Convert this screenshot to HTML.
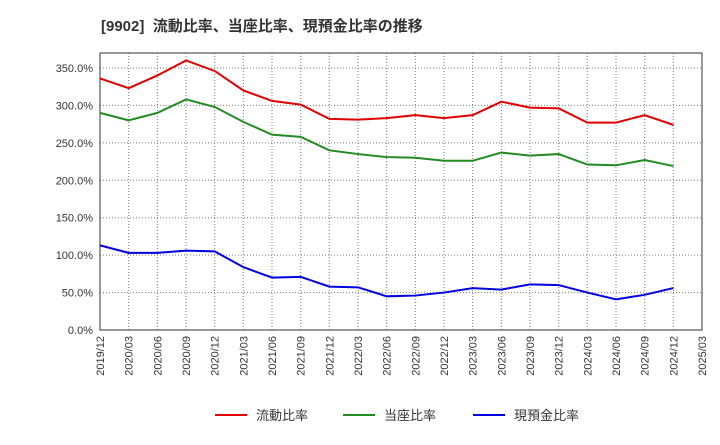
<!DOCTYPE html>
<html><head><meta charset="utf-8"><style>
body{margin:0;background:#fff;font-family:"Liberation Sans","Noto Sans CJK JP",sans-serif;}
svg text{font-family:"Liberation Sans","Noto Sans CJK JP",sans-serif;}
</style></head><body>
<svg id="c" width="720" height="440" xmlns="http://www.w3.org/2000/svg">
<text x="101" y="31" font-size="15" font-weight="bold" fill="#333" xml:space="preserve">[9902]  流動比率、当座比率、現預金比率の推移</text>
<g id="grid"></g><g id="axes"></g><g id="series"></g><g id="legend"></g>
</svg>
<script>
const categories=["2019/12","2020/03","2020/06","2020/09","2020/12","2021/03","2021/06","2021/09","2021/12","2022/03","2022/06","2022/09","2022/12","2023/03","2023/06","2023/09","2023/12","2024/03","2024/06","2024/09","2024/12","2025/03"];
const currentRatio=[336,323,340,360,346,320,306,301,282,281,283,287,283,287,305,297,296,277,277,287,274];
const quickRatio=[290,280,290,308,298,278,261,258,240,235,231,230,226,226,237,233,235,221,220,227,219];
const cashRatio=[113,103,103,106,105,84,70,71,58,57,45,46,50,56,54,61,60,50,41,47,56];
const yTicks=[0,50,100,150,200,250,300,350];
const seriesNames=["流動比率","当座比率","現預金比率"];
const L=100,R=702,T=53,B=330,YMAX=370;
const x=i=>L+(R-L)*i/(categories.length-1);
const y=v=>B-(B-T)*v/YMAX;
const NS="http://www.w3.org/2000/svg";
function mk(p,tag,a){const e=document.createElementNS(NS,tag);for(const k in a)e.setAttribute(k,a[k]);p.appendChild(e);return e;}
const g=document.getElementById('grid'),ax=document.getElementById('axes'),s=document.getElementById('series'),lg=document.getElementById('legend');
categories.forEach((c,i)=>{
 const l=mk(g,'line',{x1:x(i),x2:x(i),y1:T,y2:B,stroke:'#777','stroke-dasharray':'1,2','stroke-width':1});
 
 
 const t=mk(ax,'text',{x:0,y:0,'font-size':11,fill:'#333','text-anchor':'end',transform:`translate(${x(i)+4},${B+6}) rotate(-90)`});
 t.textContent=c;
 
 
});
yTicks.forEach(v=>{
 const l=mk(g,'line',{x1:L,x2:R,y1:y(v),y2:y(v),stroke:'#777','stroke-dasharray':'1,2','stroke-width':1});
 
 
 const t=mk(ax,'text',{x:L-7,y:y(v)+4,'font-size':11,fill:'#333','text-anchor':'end'});
 t.textContent=v.toFixed(1)+'%';
 
 
});
const fr=mk(ax,'rect',{x:L,y:T,width:R-L,height:B-T,fill:'none',stroke:'#333','stroke-width':1});


const colors=['#e00000','#228b22','#0000e0'];
[currentRatio,quickRatio,cashRatio].forEach((d,k)=>{
 const p=mk(s,'polyline',{points:d.map((v,i)=>x(i)+','+y(v)).join(' '),fill:'none',stroke:colors[k],'stroke-width':2});
 
 
 const lx=[215,343,473][k];
 const ll=mk(lg,'line',{x1:lx,x2:lx+32,y1:415,y2:415,stroke:colors[k],'stroke-width':2});
 
 
 const lt=mk(lg,'text',{x:lx+41,y:420,'font-size':13,fill:'#333'});
 lt.textContent=seriesNames[k];
 
 
});
</script>
</body></html>
